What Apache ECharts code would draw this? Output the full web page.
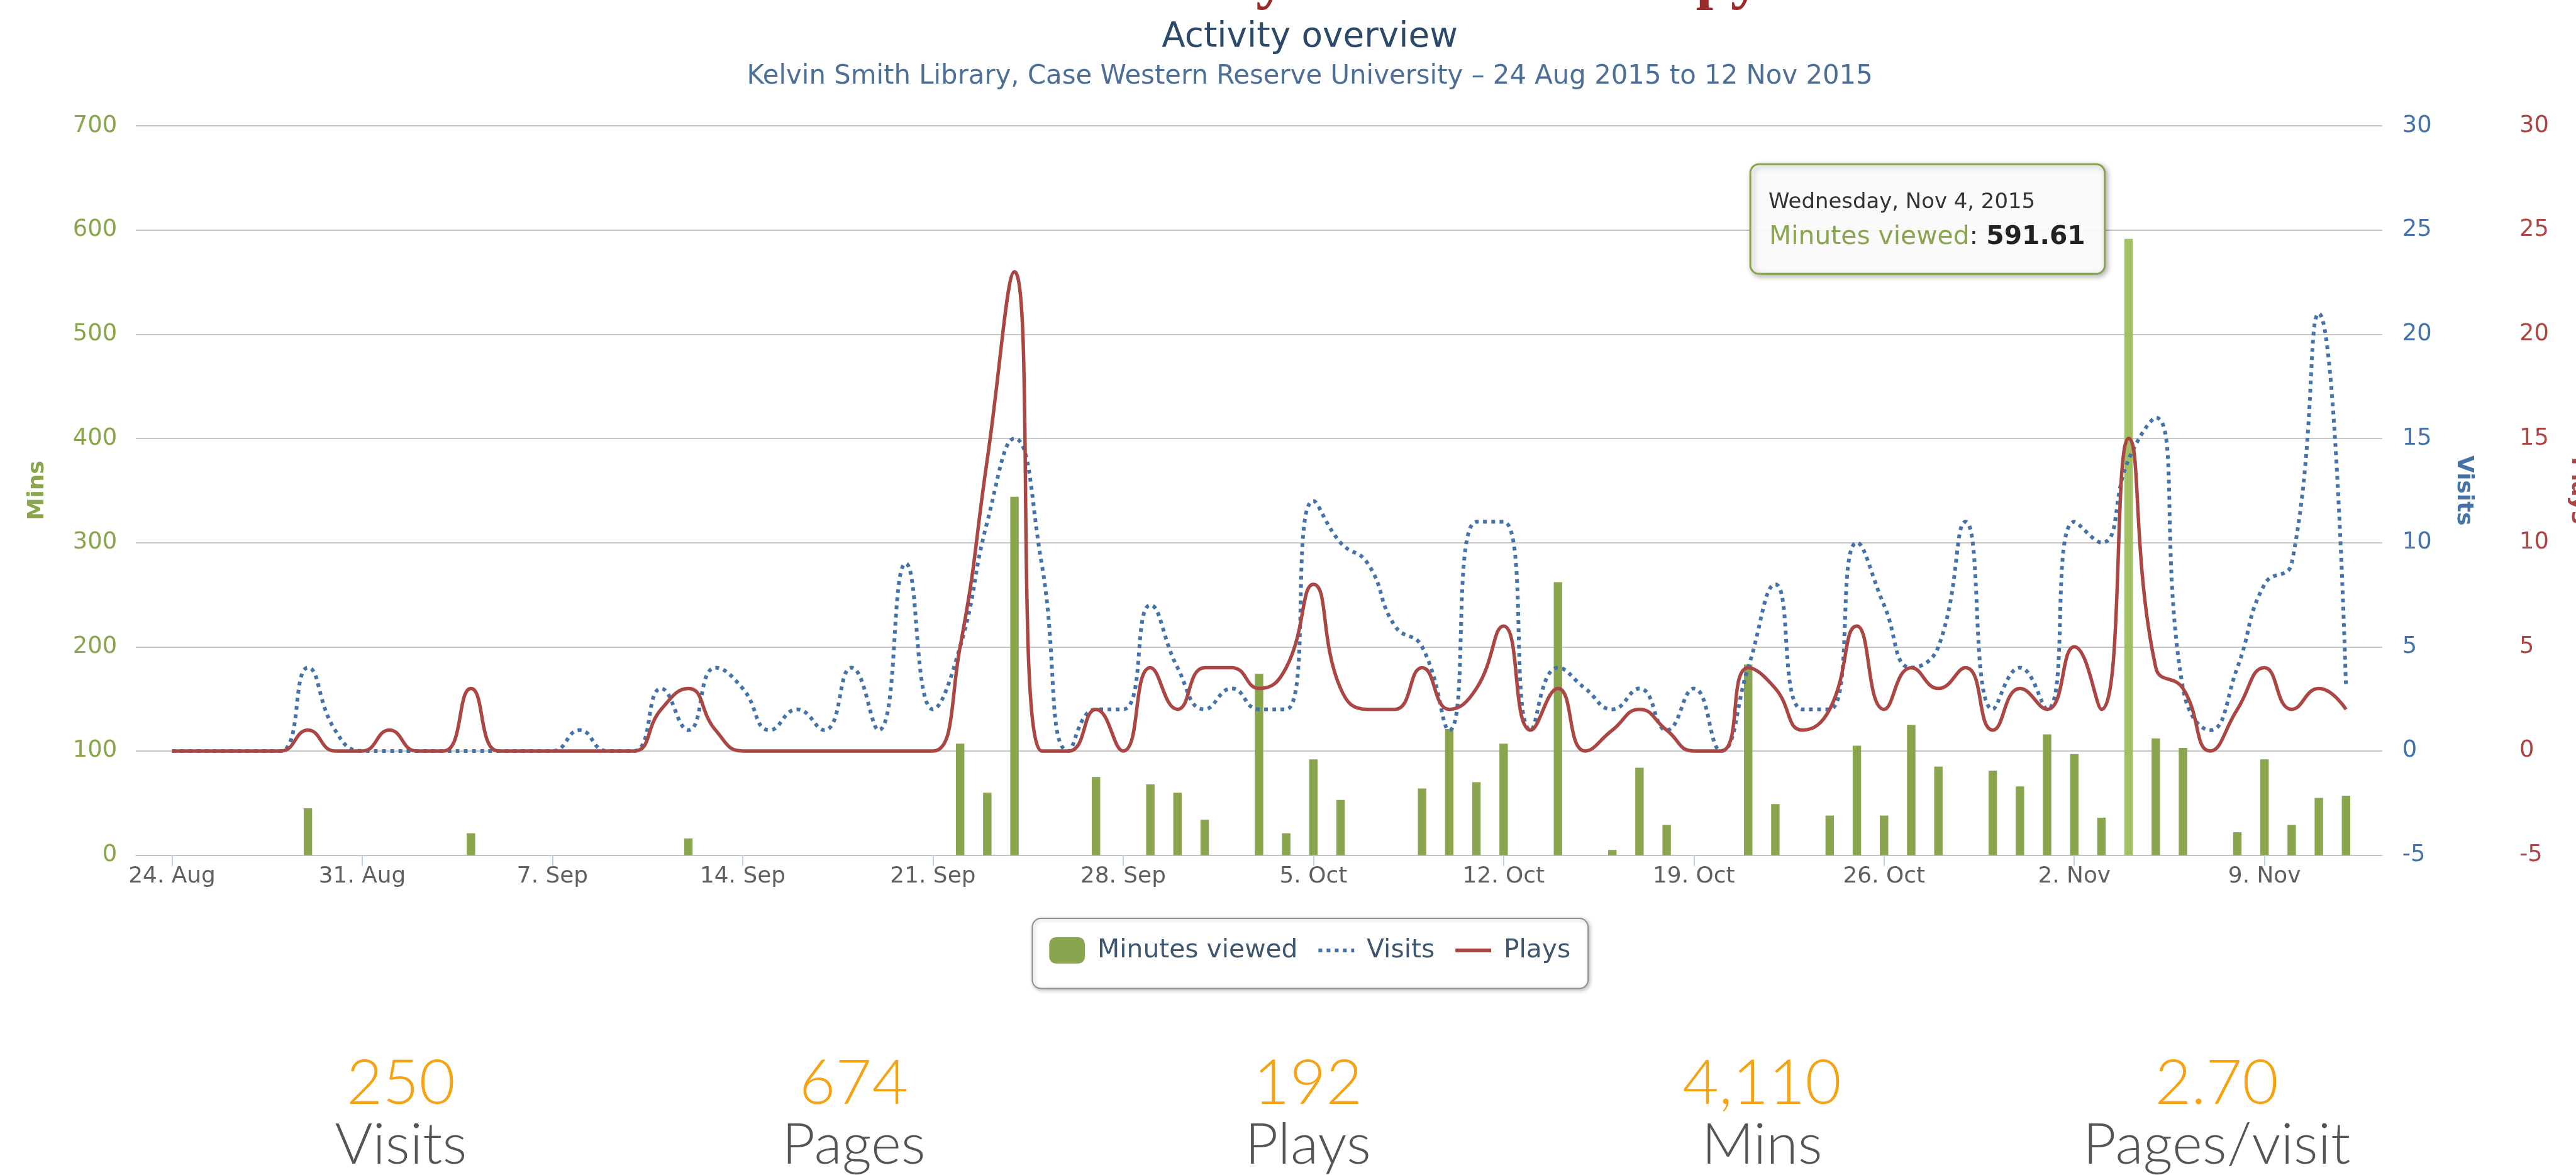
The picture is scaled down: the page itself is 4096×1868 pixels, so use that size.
<!DOCTYPE html>
<html>
<head>
<meta charset="utf-8">
<title>Activity overview</title>
<script src="https://cdn.jsdelivr.net/npm/echarts@6/dist/echarts.min.js"></script>
<style>
  html, body { margin: 0; padding: 0; background: #fff; }
  #main { width: 4096px; height: 1868px; }
</style>
</head>
<body>
<div id="main"></div>
<script>
// one value per day, day 0 = 24 Aug 2015, day 80 = 12 Nov 2015
var tickDays = [0, 7, 14, 21, 28, 35, 42, 49, 56, 63, 70, 77];
var tickLabels = ['24. Aug', '31. Aug', '7. Sep', '14. Sep', '21. Sep', '28. Sep', '5. Oct', '12. Oct', '19. Oct', '26. Oct', '2. Nov', '9. Nov'];

var minutesViewed = [
  null, null, null, null, null, 45, null, null, null, null,
  null, 21, null, null, null, null, null, null, null, 16,
  null, null, null, null, null, null, null, null, null, 107,
  60, 344, null, null, 75, null, 68, 60, 34, null,
  174, 21, 92, 53, null, null, 64, 121, 70, 107,
  null, 262, null, 5, 84, 29, null, null, 183, 49,
  null, 38, 105, 38, 125, 85, null, 81, 66, 116,
  97, 36, 591.61, 112, 103, null, 22, 92, 29, 55,
  57
];
var visits = [
  0, 0, 0, 0, 0, 4, 1, 0, 0, 0,
  0, 0, 0, 0, 0, 1, 0, 0, 3, 1,
  4, 3, 1, 2, 1, 4, 1, 9, 2, 5,
  11, 15, 9, 0, 2, 2, 7, 4, 2, 3,
  2, 2, 12, 10, 9, 6, 5, 1, 11, 11,
  1, 4, 3, 2, 3, 1, 3, 0, 4, 8,
  2, 2, 10, 7, 4, 5, 11, 2, 4, 2,
  11, 10, 14, 16, 3, 1, 4, 8, 9, 21,
  3
];
var plays = [
  0, 0, 0, 0, 0, 1, 0, 0, 1, 0,
  0, 3, 0, 0, 0, 0, 0, 0, 2, 3,
  1, 0, 0, 0, 0, 0, 0, 0, 0, 5,
  14, 23, 0, 0, 2, 0, 4, 2, 4, 4,
  3, 4, 8, 3, 2, 2, 4, 2, 3, 6,
  1, 3, 0, 1, 2, 1, 0, 0, 4, 3,
  1, 2, 6, 2, 4, 3, 4, 1, 3, 2,
  5, 2, 15, 4, 3, 0, 2, 4, 2, 3,
  2
];
var hoverDay = 72;

var statValues = ['250', '674', '192', '4,110', '2.70'];
var statLabels = ['Visits', 'Pages', 'Plays', 'Mins', 'Pages/visit'];

var S = 0.996; // reference is 4110 wide, window 4096
function px(v) { return Math.round(v * S * 10) / 10; }
var FONT = 'DejaVu Sans';

var barData = [];
minutesViewed.forEach(function (v, i) {
  if (v == null) return;
  if (i === hoverDay) barData.push({ value: [i, v], itemStyle: { color: '#a3bf66' } });
  else barData.push([i, v]);
});
var visitsData = visits.map(function (v, i) { return [i, v]; });
var playsData = plays.map(function (v, i) { return [i, v]; });

var chart = echarts.init(document.getElementById('main'));

var statX = [640, 1363, 2088, 2813, 3539];
var statGraphics = [];
statValues.forEach(function (v, i) {
  statGraphics.push({
    id: 'num' + i, type: 'text', x: px(statX[i]), y: px(1730),
    style: { text: v, align: 'center', verticalAlign: 'middle', fill: '#f5a214',
      fontFamily: 'Lato', fontWeight: 300, fontSize: px(100) }
  });
  statGraphics.push({
    id: 'lab' + i, type: 'text', x: px(statX[i]), y: px(1828),
    style: { text: statLabels[i], align: 'center', verticalAlign: 'middle', fill: '#555555',
      fontFamily: 'Lato', fontWeight: 300, fontSize: px(92) }
  });
});
// bottom of a heading that sits above the captured area
statGraphics.push({ id: 'cut1', type: 'text', x: px(2030), y: px(19),
  style: { text: 'y', align: 'center', verticalAlign: 'bottom', fill: '#9e2b2b',
    fontFamily: 'Liberation Serif', fontWeight: 'bold', fontSize: px(100) } });
statGraphics.push({ id: 'cut2', type: 'text', x: px(2760), y: px(19),
  style: { text: 'py', align: 'center', verticalAlign: 'bottom', fill: '#9e2b2b',
    fontFamily: 'Liberation Serif', fontWeight: 'bold', fontSize: px(100) } });

var option = {
  animation: false,
  backgroundColor: '#ffffff',
  title: [{
    text: 'Activity overview',
    left: px(2091), top: px(32), padding: 0, textAlign: 'center',
    textStyle: { fontFamily: FONT, fontSize: px(55), fontWeight: 'normal', color: '#2c4a68' }
  }, {
    text: 'Kelvin Smith Library, Case Western Reserve University \u2013 24 Aug 2015 to 12 Nov 2015',
    left: px(2091), top: px(102), padding: 0, textAlign: 'center',
    textStyle: { fontFamily: FONT, fontSize: px(42), fontWeight: 'normal', color: '#4d6f96' }
  }],
  legend: {
    left: px(1648), top: px(1466),
    padding: [px(30), px(28), px(40), px(27)],
    itemWidth: px(57), itemHeight: px(42), itemGap: px(30),
    borderColor: '#909090', borderWidth: 2, borderRadius: px(14),
    backgroundColor: '#ffffff',
    shadowColor: 'rgba(0,0,0,0.25)', shadowBlur: 6, shadowOffsetX: 2, shadowOffsetY: 2,
    textStyle: { fontFamily: FONT, fontSize: px(41), color: '#3E576F', padding: [0, 0, 0, px(15)] },
    data: [
      { name: 'Minutes viewed', icon: 'roundRect' },
      { name: 'Visits', itemStyle: { opacity: 0 },
        lineStyle: { color: '#4572A7', width: px(6), type: [px(6), px(7)], cap: 'butt' } },
      { name: 'Plays', itemStyle: { opacity: 0 },
        lineStyle: { color: '#AA4643', width: px(6) } }
    ]
  },
  grid: { left: px(217), top: px(201), width: px(3586), height: px(1164), outerBoundsMode: 'none' },
  xAxis: {
    type: 'value', min: -1.33, max: 81.33,
    axisLine: { show: true, onZero: false, lineStyle: { color: '#c0c8d4', width: 2 } },
    axisTick: { show: true, customValues: tickDays, length: px(17), lineStyle: { color: '#c0d0e0', width: 2 } },
    axisLabel: {
      customValues: tickDays,
      formatter: function (v) { return tickLabels[tickDays.indexOf(v)]; },
      color: '#606060', fontFamily: FONT, fontSize: px(36), margin: px(16)
    },
    splitLine: { show: false }
  },
  yAxis: [{
    type: 'value', min: 0, max: 700, interval: 100, position: 'left',
    axisLine: { show: false }, axisTick: { show: false },
    axisLabel: { color: '#89A54E', fontFamily: FONT, fontSize: px(37), margin: px(30) },
    splitLine: { lineStyle: { color: '#c6c6c6', width: 2 } },
    name: 'Mins', nameLocation: 'middle', nameGap: px(139), nameRotate: 90,
    nameTextStyle: { color: '#89A54E', fontFamily: FONT, fontWeight: 'bold', fontSize: px(36) }
  }, {
    type: 'value', min: -5, max: 30, interval: 5, position: 'right',
    axisLine: { show: false }, axisTick: { show: false },
    axisLabel: { color: '#4572A7', fontFamily: FONT, fontSize: px(37), margin: px(32) },
    splitLine: { show: false },
    name: 'Visits', nameLocation: 'middle', nameGap: px(112), nameRotate: -90,
    nameTextStyle: { color: '#4572A7', fontFamily: FONT, fontWeight: 'bold', fontSize: px(36) }
  }, {
    type: 'value', min: -5, max: 30, interval: 5, position: 'right', offset: px(187),
    axisLine: { show: false }, axisTick: { show: false },
    axisLabel: { color: '#AA4643', fontFamily: FONT, fontSize: px(37), margin: px(32) },
    splitLine: { show: false },
    name: 'Plays', nameLocation: 'middle', nameGap: px(108), nameRotate: -90,
    nameTextStyle: { color: '#AA4643', fontFamily: FONT, fontWeight: 'bold', fontSize: px(36) }
  }],
  series: [{
    name: 'Minutes viewed', type: 'bar', yAxisIndex: 0, barWidth: px(13.5),
    itemStyle: { color: '#89A54E' }, data: barData, z: 2
  }, {
    name: 'Visits', type: 'line', yAxisIndex: 1, smooth: 0.5, symbol: 'none',
    lineStyle: { color: '#4572A7', width: px(6), type: [px(6), px(7)], cap: 'butt' },
    itemStyle: { color: '#4572A7' }, data: visitsData, z: 3
  }, {
    name: 'Plays', type: 'line', yAxisIndex: 2, smooth: 0.5, symbol: 'none',
    lineStyle: { color: '#AA4643', width: px(5.5) },
    itemStyle: { color: '#AA4643' }, data: playsData, z: 4
  }],
  graphic: statGraphics
};
chart.setOption(option);

// hover tooltip of the Nov 4 column, drawn next to its bar
var barX = chart.convertToPixel({ xAxisIndex: 0 }, hoverDay);
var d = new Date(2015, 7, 24 + hoverDay);
var days = ['Sunday', 'Monday', 'Tuesday', 'Wednesday', 'Thursday', 'Friday', 'Saturday'];
var months = ['Jan', 'Feb', 'Mar', 'Apr', 'May', 'Jun', 'Jul', 'Aug', 'Sep', 'Oct', 'Nov', 'Dec'];
var header = days[d.getDay()] + ', ' + months[d.getMonth()] + ' ' + d.getDate() + ', ' + d.getFullYear();
var boxW = px(566), boxH = px(175);
var boxX = barX - px(38) - boxW, boxY = px(262);
chart.setOption({
  graphic: [{
    id: 'tipBox', type: 'rect', z: 100,
    shape: { x: boxX, y: boxY, width: boxW, height: boxH, r: px(14) },
    style: { fill: 'rgba(255,255,255,0.92)', stroke: '#89A54E', lineWidth: 3,
      shadowColor: 'rgba(0,0,0,0.3)', shadowBlur: 8, shadowOffsetX: 3, shadowOffsetY: 3 }
  }, {
    id: 'tipHead', type: 'text', z: 101, x: boxX + px(29), y: px(324),
    style: { text: header, verticalAlign: 'middle', fill: '#333333', fontFamily: FONT, fontSize: px(34) }
  }, {
    id: 'tipBody', type: 'text', z: 101, x: boxX + px(30), y: px(379),
    style: {
      text: '{g|Minutes viewed}: {b|' + minutesViewed[hoverDay].toFixed(2) + '}',
      verticalAlign: 'middle', fill: '#333333', fontFamily: FONT, fontSize: px(41),
      rich: {
        g: { fill: '#89A54E', fontFamily: FONT, fontSize: px(41) },
        b: { fill: '#222222', fontFamily: FONT, fontSize: px(41), fontWeight: 'bold' }
      }
    }
  }]
});
</script>
</body>
</html>
